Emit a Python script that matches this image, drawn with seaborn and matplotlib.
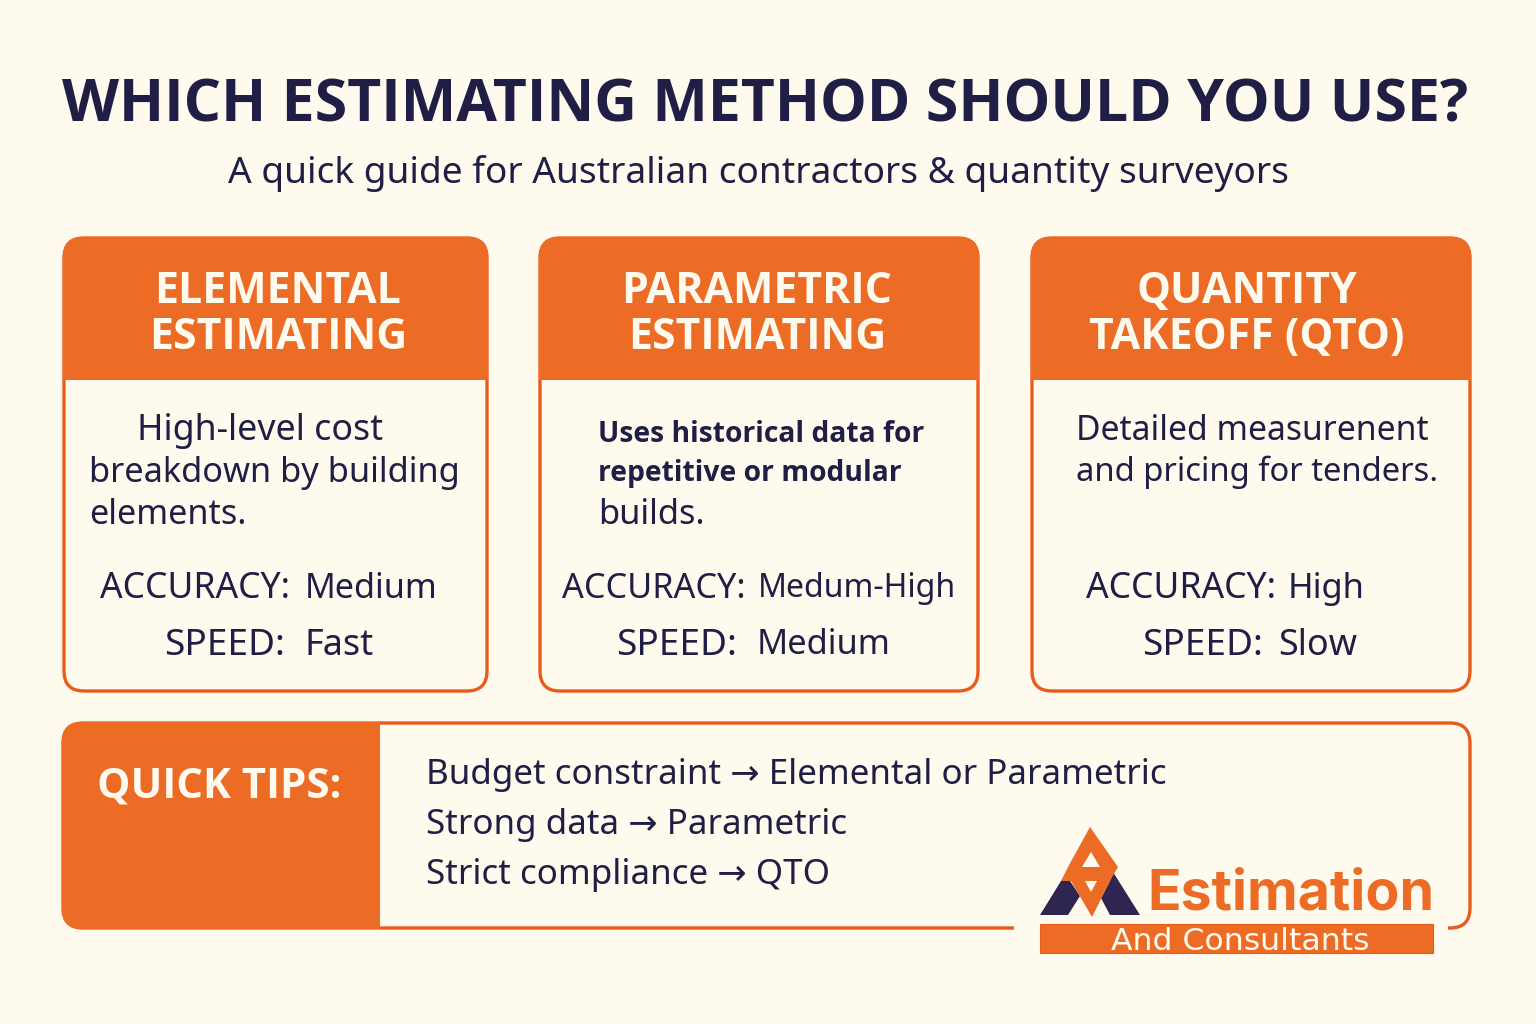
import matplotlib
matplotlib.use("Agg")
import matplotlib.pyplot as plt
from matplotlib.patches import FancyBboxPatch, Rectangle, Polygon
import seaborn as sns

BG = "#FFFAEE"
ORANGE = "#EC6C26"
EDGE = "#E95B1B"
NAVY = "#201E45"
LOGO_NAVY = "#2E2650"

title = "WHICH ESTIMATING METHOD SHOULD YOU USE?"
subtitle = "A quick guide for Australian contractors & quantity surveyors"

card_heads = [["ELEMENTAL", "ESTIMATING"], ["PARAMETRIC", "ESTIMATING"], ["QUANTITY", "TAKEOFF (QTO)"]]
card_desc = [
    ["High-level cost", "breakdown by building", "elements."],
    ["Uses historical data for", "repetitive or modular", "builds."],
    ["Detailed measurenent", "and pricing for tenders."],
]
accuracy_label = "ACCURACY:"
speed_label = "SPEED:"
card_accuracy = ["Medium", "Medum-High", "High"]
card_speed = ["Fast", "Medium", "Slow"]

tips_head = "QUICK TIPS:"
tips = ["Budget constraint → Elemental or Parametric", "Strong data → Parametric", "Strict compliance → QTO"]
logo_name = "Estimation"
logo_sub = "And Consultants"

sns.set_theme(style="white")
plt.rcParams["font.family"] = ["Noto Sans", "DejaVu Sans"]

fig, ax = plt.subplots(figsize=(15.36, 10.24), dpi=100, facecolor=BG)
ax.set_position([0, 0, 1, 1])
ax.set_xlim(0, 1536)
ax.set_ylim(1024, 0)
ax.axis("off")


def px(size):
    # font size in pixels to points
    return size * 0.72


def label(x, y, s, size, color=NAVY, ha="left", **kw):
    return ax.text(x, y - 1.5, s, fontsize=px(size), color=color, ha=ha, va="center_baseline", **kw)


def heavy(x, y, s, size, color=NAVY, ha="left", **kw):
    # Noto Sans has no bold cut here, Open Sans does
    return label(x, y, s, size, color=color, ha=ha, family="Open Sans", fontweight="bold", **kw)


def rounded(x0, y0, x1, y1, r, **kw):
    p = FancyBboxPatch((x0 + r, y0 + r), x1 - x0 - 2 * r, y1 - y0 - 2 * r,
                       boxstyle=f"round,pad={r},rounding_size={r}", **kw)
    ax.add_patch(p)
    return p


heavy(765, 101, title, 59, ha="center")
label(758, 171, subtitle, 37.1, ha="center")

# cards
card_x = [(64, 487), (540, 978), (1032, 1470)]
head_cx = [278, 757, 1247]
desc_pos = [[(137, 428), (89, 470), (89, 512)],
            [(598, 432), (598, 471), (598, 512)],
            [(1076, 428), (1076, 470)]]
desc_size = [[35.8, 34.4, 34.2], [28.3, 28.3, 34.4], [33.7, 32.8]]
acc_x = [100, 562, 1086]
acc_val_x = [305, 758, 1288]
speed_x = [164, 616, 1142]
speed_val_x = [304, 757, 1278]
acc_size = [35.5, 34.2, 35.5]
val_size = [[34.1, 32, 34.5], [36, 34.4, 36]]

for i, (x0, x1) in enumerate(card_x):
    rounded(x0, 238, x1, 691, 20, facecolor=BG, edgecolor=EDGE, linewidth=2.4, zorder=1)
    head = rounded(x0 - 1, 237, x1 + 1, 692, 20, facecolor=ORANGE, edgecolor="none", zorder=2)
    head.set_clip_path(Rectangle((x0 - 5, 230), x1 - x0 + 10, 150, transform=ax.transData))
    for j, line in enumerate(card_heads[i]):
        heavy(head_cx[i], 288 + 46 * j, line, 42.7, color=BG, ha="center", zorder=3)
    for j, line in enumerate(card_desc[i]):
        if i == 1 and j < 2:
            heavy(desc_pos[i][j][0], desc_pos[i][j][1], line, desc_size[i][j], zorder=3)
        else:
            label(desc_pos[i][j][0], desc_pos[i][j][1], line, desc_size[i][j], zorder=3)
    label(acc_x[i], 586, accuracy_label, acc_size[i], zorder=3)
    label(acc_val_x[i], 586, card_accuracy[i], val_size[0][i], zorder=3)
    label(speed_x[i], 643, speed_label, 37, zorder=3)
    label(speed_val_x[i], 643, card_speed[i], val_size[1][i], zorder=3)

# tips box
rounded(63, 723, 1470, 928, 20, facecolor=BG, edgecolor=EDGE, linewidth=2.4, zorder=1)
tip_fill = rounded(62, 722, 1471, 929, 20, facecolor=ORANGE, edgecolor="none", zorder=2)
tip_fill.set_clip_path(Rectangle((55, 715), 325, 220, transform=ax.transData))
heavy(219, 784, tips_head, 42, color=BG, ha="center", zorder=3)
for j, line in enumerate(tips):
    label(426, 773 + 50 * j, line, 35, zorder=3)

# logo, gap in the box border first
ax.add_patch(Rectangle((1014, 915), 434, 20, facecolor=BG, edgecolor="none", zorder=4))
navy_parts = [
    [(1040, 915), (1061, 881), (1070, 881), (1080, 896), (1068, 915)],
    [(1113, 872), (1140, 915), (1110, 915), (1101, 898), (1110, 881)],
]
orange_parts = [
    [(1090, 827), (1118, 867), (1068, 867)],
    [(1068, 867), (1118, 867), (1110, 881), (1061, 881)],
    [(1071, 881), (1110, 881), (1092, 917)],
]
hole_parts = [
    [(1091, 852), (1082, 867), (1100, 867)],
    [(1085, 881), (1097, 881), (1091, 892)],
]
for pts in navy_parts:
    ax.add_patch(Polygon(pts, facecolor=LOGO_NAVY, edgecolor="none", zorder=5))
for pts in orange_parts:
    ax.add_patch(Polygon(pts, facecolor=ORANGE, edgecolor="none", zorder=6))
for pts in hole_parts:
    ax.add_patch(Polygon(pts, facecolor=BG, edgecolor="none", zorder=7))
ax.text(1147, 910, logo_name, fontsize=px(55.5), color=ORANGE, fontweight="bold",
        family="Inter", ha="left", va="baseline", zorder=5)
ax.add_patch(Rectangle((1040, 924), 393, 29, facecolor=ORANGE, edgecolor=EDGE, linewidth=0.8, zorder=5))
ax.text(1240, 939, logo_sub, fontsize=px(31.5), color=BG, family="DejaVu Sans",
        ha="center", va="center_baseline", zorder=6)

fig.savefig("out.png", dpi=100, facecolor=BG)
